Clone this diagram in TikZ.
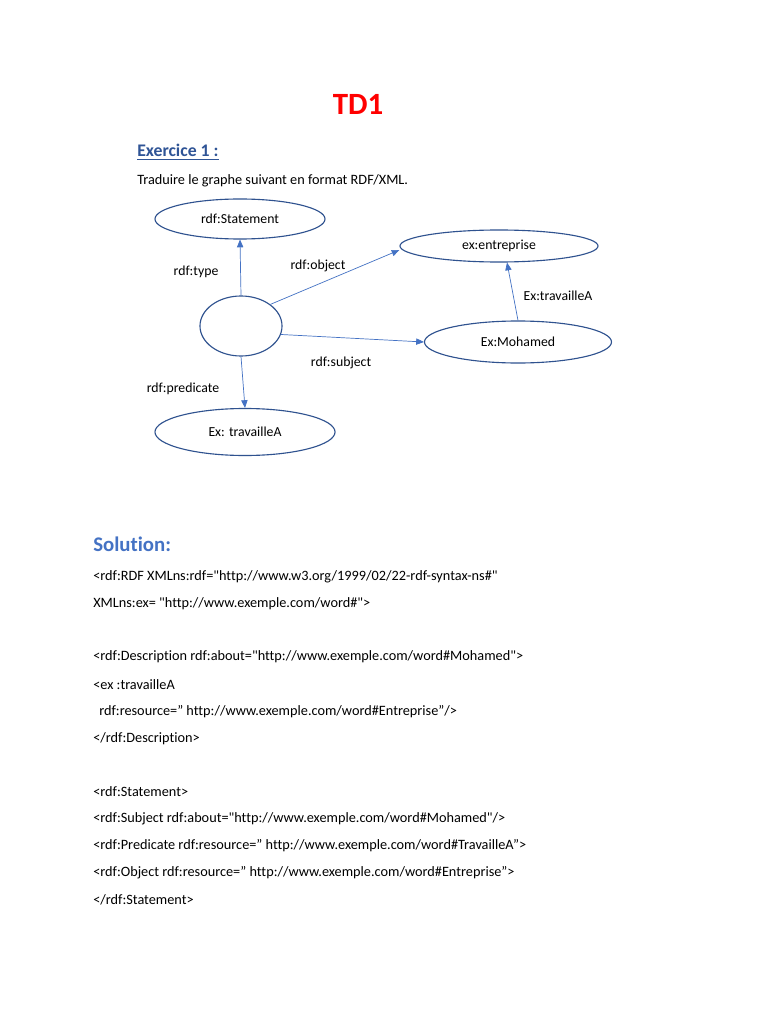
\documentclass[tikz,border=0pt]{standalone}
\usepackage{fontspec}
\setmainfont{Carlito}[Ligatures={TeXOff,NoCommon}]
\usepackage{xcolor}
\definecolor{tdRed}{RGB}{255, 0, 0}
\definecolor{exBlue}{RGB}{47, 84, 150}
\definecolor{solBlue}{RGB}{68, 114, 196}
\definecolor{nodeBlue}{RGB}{47, 82, 143}
\definecolor{edgeBlue}{RGB}{68, 114, 196}
\usepackage{tikz}
\usetikzlibrary{shapes.geometric, arrows.meta, positioning}

\begin{document}
\begin{tikzpicture}[x=0.025cm, y=-0.025cm,
  ellip/.style={ellipse, draw=nodeBlue, line width=0.8pt, inner sep=0pt,
                font=\fontsize{9.8}{12}\selectfont, text=black},
  arr/.style={-{Triangle[length=5.5pt, width=4.5pt]}, draw=edgeBlue, line width=0.5pt},
  lbl/.style={font=\fontsize{9.8}{12}\selectfont, text=black, inner sep=0pt},
  code/.style={anchor=west, font=\fontsize{10.15}{12}\selectfont, inner sep=0pt}]

  \useasboundingbox[fill=white] (0,0) rectangle (768,1024);

  % ── Header ───────────────────────────────────────────────────────
  \node[font=\fontsize{22}{26}\selectfont\bfseries, text=tdRed] (title) at (358,104) {TD1};
  \node[anchor=west, inner sep=0pt, font=\fontsize{12.6}{15}\selectfont\bfseries, text=exBlue]
        (exo) at (137,152) {\underline{Exercice 1 :}};
  \node[code] (consigne) at (137,181) {Traduire le graphe suivant en format RDF/XML.};

  % ── Graph ────────────────────────────────────────────────────────
  \node[ellip, minimum width=4.25cm,  minimum height=1.0cm]   (statement) at (240,219) {rdf:Statement};
  \node[ellip, minimum width=4.95cm,  minimum height=0.8cm]   (entreprise) at (499,246) {ex:entreprise};
  \node[ellip, minimum width=2.05cm,  minimum height=1.5cm]   (blank) at (241,326) {};
  \node[ellip, minimum width=4.675cm, minimum height=1.05cm]  (mohamed) at (518,342) {Ex:Mohamed};
  \node[ellip, minimum width=4.5cm,   minimum height=1.175cm] (travaille) at (245,432) {Ex: travailleA};

  \draw[arr] (blank.north) -- (statement.south);
  \draw[arr] (blank.north east) -- ([yshift=-0.1cm]entreprise.west);
  \draw[arr] (blank.-12) -- (mohamed.west);
  \draw[arr] (blank.south) -- (travaille.north);
  \draw[arr] (mohamed.north) -- ([xshift=0.2cm]entreprise.south);

  \node[lbl] (ltype) at (196,272) {rdf:type};
  \node[lbl] (lobject) at (318,266) {rdf:object};
  \node[lbl] (lsubject) at (341,363) {rdf:subject};
  \node[lbl] (lpredicate) at (183,389) {rdf:predicate};
  \node[lbl] (ltravaille) at (558,296) {Ex:travailleA};

  % ── Solution ─────────────────────────────────────────────────────
  \node[anchor=west, inner sep=0pt, font=\fontsize{14.8}{17}\selectfont\bfseries, text=solBlue]
        (solution) at (93,544) {Solution:};
  \node[code] (l1)  at (93,577) {<rdf:RDF XMLns:rdf="http://www.w3.org/1999/02/22-rdf-syntax-ns\#"};
  \node[code] (l2)  at (93,604) {XMLns:ex= "http://www.exemple.com/word\#">};
  \node[code] (l3)  at (93,657) {<rdf:Description rdf:about="http://www.exemple.com/word\#Mohamed">};
  \node[code] (l4)  at (93,685) {<ex :travailleA};
  \node[code] (l5)  at (99,712) {rdf:resource=” http://www.exemple.com/word\#Entreprise”/>};
  \node[code] (l6)  at (93,739) {</rdf:Description>};
  \node[code] (l7)  at (93,792) {<rdf:Statement>};
  \node[code] (l8)  at (93,819) {<rdf:Subject rdf:about="http://www.exemple.com/word\#Mohamed"/>};
  \node[code] (l9)  at (93,846) {<rdf:Predicate rdf:resource=” http://www.exemple.com/word\#TravailleA”>};
  \node[code] (l10) at (93,873) {<rdf:Object rdf:resource=” http://www.exemple.com/word\#Entreprise”>};
  \node[code] (l11) at (93,900) {</rdf:Statement>};

\end{tikzpicture}
\end{document}
